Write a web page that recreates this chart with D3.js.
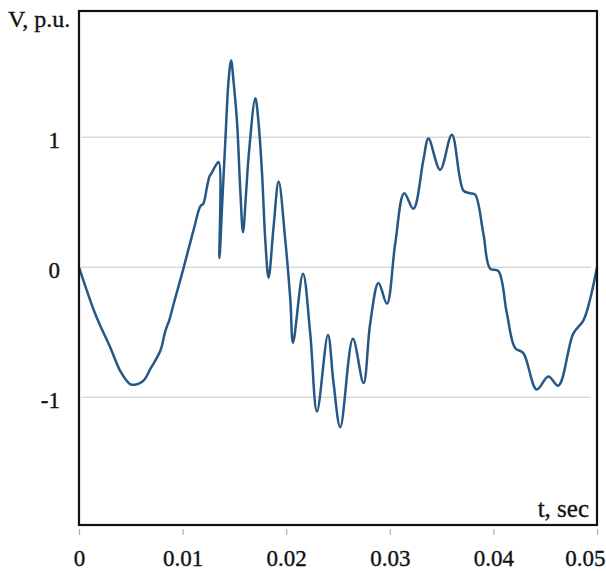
<!DOCTYPE html>
<html>
<head>
<meta charset="utf-8">
<script src="https://cdn.jsdelivr.net/npm/d3@7"></script>
<style>
  html, body { margin: 0; padding: 0; background: #fff; }
  svg { display: block; }
</style>
</head>
<body>
<svg id="chart" width="606" height="572"></svg>
<script>
// ---- data ----
const timeSec = [
  0.00000, 0.00143, 0.00200, 0.00304, 0.00400, 0.00497, 0.00560, 0.00625, 0.00690, 0.00786, 0.00830,
  0.00851, 0.00870, 0.00914, 0.00935, 0.01011, 0.01107, 0.01172, 0.01200, 0.01236, 0.01260,
  0.01284, 0.01310, 0.01348, 0.01355, 0.01381, 0.01413, 0.01444, 0.01468, 0.01493, 0.01526,
  0.01557, 0.01583, 0.01615, 0.01637, 0.01702, 0.01731, 0.01767, 0.01798, 0.01830, 0.01878,
  0.01927, 0.01991, 0.02040, 0.02066, 0.02162, 0.02232, 0.02297, 0.02403, 0.02457, 0.02522,
  0.02644, 0.02746, 0.02811, 0.02891, 0.02972, 0.03052, 0.03139, 0.03228, 0.03325, 0.03373,
  0.03486, 0.03599, 0.03711, 0.03775, 0.03823, 0.03903, 0.03968, 0.04048, 0.04129, 0.04209,
  0.04289, 0.04418, 0.04530, 0.04627, 0.04771, 0.04868, 0.04932, 0.05000
];
const voltagePU = [
  0.00, -0.33, -0.44, -0.62, -0.80, -0.90, -0.90, -0.87, -0.78, -0.64, -0.50,
  -0.45, -0.41, -0.28, -0.22, 0.00, 0.29, 0.47, 0.49, 0.62, 0.70,
  0.73, 0.77, 0.81, 0.07, 0.47, 0.98, 1.44, 1.59, 1.42, 1.11,
  0.59, 0.27, 0.60, 0.85, 1.30, 1.13, 0.72, 0.21, -0.08, 0.31,
  0.66, 0.21, -0.25, -0.58, -0.05, -0.51, -1.11, -0.52, -0.89, -1.23,
  -0.55, -0.89, -0.43, -0.12, -0.28, 0.18, 0.57, 0.45, 0.83, 0.99,
  0.75, 1.02, 0.59, 0.57, 0.56, 0.26, -0.01, -0.03, -0.35, -0.62,
  -0.66, -0.94, -0.84, -0.91, -0.51, -0.41, -0.25, 0.00
];
const xTicks = [0, 0.01, 0.02, 0.03, 0.04, 0.05];
const xTickLabels = ["0", "0.01", "0.02", "0.03", "0.04", "0.05"];
const yTicks = [-1, 0, 1];
const yTickLabels = ["-1", "0", "1"];
const yAxisTitle = "V, p.u.";
const xAxisTitle = "t, sec";

// ---- layout ----
const plot = { left: 79, right: 597, top: 11, bottom: 525 };
const serif = "'Liberation Serif', 'Times New Roman', serif";
const ink = "#111";

const svg = d3.select("#chart");
const x = d3.scaleLinear().domain([0, 0.05]).range([79, 597]);
const y = d3.scaleLinear().domain([-2, 2]).range([527.3, 7.3]);

// gridlines
svg.append("g")
  .selectAll("line")
  .data(yTicks)
  .join("line")
  .attr("x1", plot.left + 2)
  .attr("x2", plot.right - 6)
  .attr("y1", d => y(d))
  .attr("y2", d => y(d))
  .attr("stroke", "#d9d9d9")
  .attr("stroke-width", 1.6);

// data line
const points = timeSec.map((t, i) => [t, voltagePU[i]]);
const line = d3.line()
  .x(d => x(d[0]))
  .y(d => y(d[1]))
  .curve(d3.curveCatmullRom.alpha(0.5));

svg.append("path")
  .datum(points)
  .attr("d", line)
  .attr("fill", "none")
  .attr("stroke", "#255886")
  .attr("stroke-width", 2.5)
  .attr("stroke-linejoin", "round");

// plot frame
svg.append("rect")
  .attr("x", plot.left)
  .attr("y", plot.top)
  .attr("width", plot.right - plot.left)
  .attr("height", plot.bottom - plot.top)
  .attr("fill", "none")
  .attr("stroke", ink)
  .attr("stroke-width", 2.2);

// x axis
const xAxis = d3.axisBottom(x)
  .tickValues(xTicks)
  .tickFormat((d, i) => xTickLabels[i])
  .tickSize(6)
  .tickSizeOuter(0)
  .tickPadding(15);

const gx = svg.append("g")
  .attr("transform", `translate(0,${plot.bottom + 4})`)
  .call(xAxis);
gx.select(".domain").remove();
gx.selectAll(".tick line").attr("stroke", "#b0b0b0").attr("stroke-width", 1.2);
gx.selectAll(".tick text")
  .attr("font-family", serif)
  .attr("font-size", 23)
  .attr("fill", ink)
  .attr("stroke", ink)
  .attr("stroke-width", 0.35);
// keep the last label inside the page (the reference shows it flush with the right edge)
gx.selectAll(".tick text")
  .filter((d, i, nodes) => i === nodes.length - 1)
  .attr("text-anchor", "end")
  .attr("x", 606 - x(0.05) - 1);

// y axis
const yAxis = d3.axisLeft(y)
  .tickValues(yTicks)
  .tickFormat((d, i) => yTickLabels[i])
  .tickSize(0)
  .tickPadding(19);

const gy = svg.append("g")
  .attr("transform", `translate(${plot.left},0)`)
  .call(yAxis);
gy.select(".domain").remove();
gy.selectAll(".tick text")
  .attr("font-family", serif)
  .attr("font-size", 23)
  .attr("fill", ink)
  .attr("stroke", ink)
  .attr("stroke-width", 0.35)
  .attr("dy", "0.45em");

// axis titles
svg.append("text")
  .attr("x", 8)
  .attr("y", 27)
  .attr("font-family", serif)
  .attr("font-size", 24)
  .attr("fill", ink)
  .attr("stroke", ink)
  .attr("stroke-width", 0.3)
  .text(yAxisTitle);

svg.append("text")
  .attr("x", 589)
  .attr("y", 517)
  .attr("text-anchor", "end")
  .attr("font-family", serif)
  .attr("font-size", 25)
  .attr("fill", ink)
  .attr("stroke", ink)
  .attr("stroke-width", 0.3)
  .text(xAxisTitle);
</script>
</body>
</html>
